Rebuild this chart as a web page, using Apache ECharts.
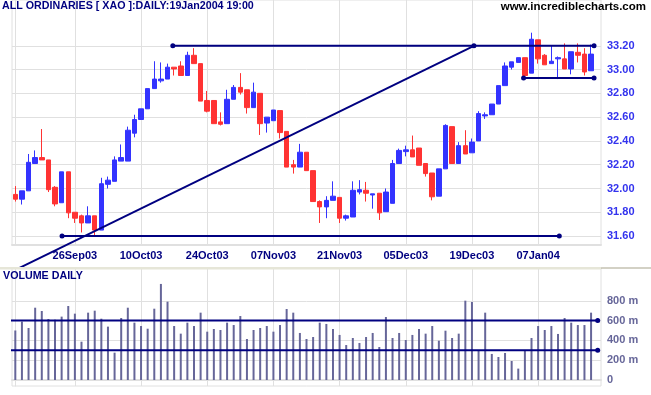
<!DOCTYPE html>
<html><head><meta charset="utf-8">
<script src="https://cdn.jsdelivr.net/npm/echarts@6/dist/echarts.min.js"></script>
<style>html,body{margin:0;padding:0;background:#fff}#c{width:651px;height:395px}</style>
</head><body><div id="c"></div>
<script>
const dates = ['15Sep03','16Sep03','17Sep03','18Sep03','19Sep03','22Sep03','23Sep03','24Sep03','25Sep03','26Sep03','29Sep03','30Sep03',
'01Oct03','02Oct03','03Oct03','06Oct03','07Oct03','08Oct03','09Oct03','10Oct03','13Oct03','14Oct03','15Oct03','16Oct03','17Oct03','20Oct03','21Oct03','22Oct03','23Oct03','24Oct03','27Oct03','28Oct03','29Oct03','30Oct03','31Oct03',
'03Nov03','04Nov03','05Nov03','06Nov03','07Nov03','10Nov03','11Nov03','12Nov03','13Nov03','14Nov03','17Nov03','18Nov03','19Nov03','20Nov03','21Nov03','24Nov03','25Nov03','26Nov03','27Nov03','28Nov03',
'01Dec03','02Dec03','03Dec03','04Dec03','05Dec03','08Dec03','09Dec03','10Dec03','11Dec03','12Dec03','15Dec03','16Dec03','17Dec03','18Dec03','19Dec03','22Dec03','23Dec03','24Dec03','29Dec03','30Dec03','31Dec03',
'02Jan04','05Jan04','06Jan04','07Jan04','08Jan04','09Jan04','12Jan04','13Jan04','14Jan04','15Jan04','16Jan04','19Jan04'];
const opens = [31.95,31.91,31.98,32.21,32.26,32.24,32.01,31.88,32.14,31.80,31.77,31.71,31.77,31.65,32.035,32.06,32.23,32.23,32.465,32.58,
32.67,32.84,32.905,32.92,33.02,33.03,32.95,33.12,33.05,32.74,32.74,32.56,32.545,32.75,32.85,32.83,32.68,32.80,32.55,32.57,
32.655,32.48,32.20,32.18,32.305,32.15,31.89,31.845,31.90,31.925,31.75,31.76,31.97,31.985,31.945,31.96,31.805,31.875,32.21,32.31,
32.325,32.34,32.21,32.13,31.935,32.165,32.52,32.21,32.36,32.30,32.40,32.61,32.62,32.71,32.865,33.02,33.06,33.10,32.97,33.25,
33.12,33.05,33.09,33.09,33.005,33.145,33.13,32.99];
const closes = [31.91,31.98,32.22,32.26,32.24,31.99,31.87,32.14,31.795,31.75,31.71,31.77,31.65,32.04,32.07,32.24,32.26,32.49,32.58,32.67,
32.84,32.92,32.92,33.02,33.005,32.95,33.12,33.05,32.735,32.65,32.545,32.54,32.75,32.85,32.81,32.68,32.81,32.545,32.60,32.66,
32.47,32.18,32.18,32.305,32.15,31.89,31.845,31.90,31.935,31.75,31.77,31.985,31.99,31.96,31.955,31.795,31.97,32.21,32.32,32.325,
32.265,32.195,32.125,31.93,32.165,32.53,32.21,32.36,32.29,32.39,32.63,32.62,32.71,32.865,33.03,33.065,33.10,32.95,33.255,33.09,
33.04,33.07,33.10,33.005,33.15,33.12,32.98,33.13];
const lows = [31.89,31.865,31.98,32.21,32.24,31.97,31.85,31.88,31.75,31.71,31.63,31.71,31.605,31.65,32.00,32.06,32.23,32.23,32.43,32.58,
32.67,32.84,32.89,32.92,32.95,32.95,32.95,33.05,32.735,32.64,32.545,32.53,32.545,32.75,32.79,32.63,32.68,32.45,32.47,32.57,
32.42,32.18,32.125,32.18,32.15,31.89,31.71,31.75,31.90,31.71,31.73,31.76,31.95,31.89,31.83,31.735,31.805,31.875,32.21,32.27,
32.265,32.195,32.10,31.90,31.935,32.165,32.21,32.21,32.29,32.30,32.40,32.585,32.62,32.71,32.865,33.00,33.06,32.93,32.97,33.05,
33.04,33.05,32.92,33.005,32.96,33.06,32.95,32.99];
const highs = [32.02,31.98,32.29,32.32,32.50,32.24,32.02,32.14,32.14,31.80,31.78,31.85,31.77,32.09,32.10,32.27,32.37,32.52,32.62,32.67,
32.84,33.07,33.06,33.05,33.02,33.07,33.15,33.18,33.05,32.82,32.74,32.64,32.83,32.87,32.97,32.83,32.89,32.80,32.60,32.66,
32.655,32.48,32.24,32.375,32.305,32.15,31.90,31.935,32.06,31.925,31.78,32.06,32.07,32.055,31.955,31.96,32.00,32.24,32.335,32.36,
32.445,32.34,32.21,32.13,32.165,32.54,32.52,32.39,32.49,32.42,32.65,32.64,32.71,32.865,33.06,33.065,33.10,33.10,33.31,33.25,
33.13,33.20,33.11,33.22,33.15,33.22,33.18,33.21];
const volumes = [500,590,525,730,697,616,609,640,747,670,387,680,700,619,539,276,626,730,579,545,
518,720,970,791,545,468,579,545,680,488,515,505,579,555,646,414,505,525,545,488,
555,717,680,475,414,434,579,566,515,455,353,424,374,434,475,333,636,424,475,404,
455,515,468,545,397,498,424,468,801,788,303,680,263,232,273,192,115,303,424,545,
505,545,465,626,579,555,555,680];
const dateTicks = ['26Sep03','10Oct03','24Oct03','07Nov03','21Nov03','05Dec03','19Dec03','07Jan04'];
const priceTicks = [31.6,31.8,32.0,32.2,32.4,32.6,32.8,33.0,33.2];
const volumeTicks = [0,200,400,600,800];
// annotation lines: [trading-day index, value]
const resistanceLine = [[23.8,33.20],[87.45,33.20]];
const supportLine = [[7.06,31.60],[82.2,31.60]];
const rangeLowLine = [[76.8,32.93],[87.45,32.93]];
const trendLine = [[0.56,31.33],[69.3,33.20]];
const volHighLine = [[-2.31,600],[88.0,600]];
const volLowLine = [[-2.31,300],[88.0,300]];

const FONT = 'Liberation Sans, Arial, sans-serif';
const NAVY = '#000080';
const cats = dates.concat(['']);
const candleData = opens.map((o,i)=>[o, closes[i], lows[i], highs[i]]);
const isTick = (idx, val) => dateTicks.indexOf(val) >= 0;

function annot(points, xi, yi, dots){
  return {type:'line', xAxisIndex:xi, yAxisIndex:yi, clip:false, silent:true, z:5,
    data: points.map((p,k)=>({value:p, symbol: dots[k] ? 'circle' : 'none'})),
    symbolSize:5, lineStyle:{color:NAVY, width:2}, itemStyle:{color:NAVY}};
}
function catAxis(grid, showLabels){
  return {type:'category', gridIndex:grid, data:cats, boundaryGap:true,
    axisLine:{show:true, lineStyle:{color:'#e0e0e0', width:2}},
    axisTick:{show:false},
    axisLabel:{show:showLabels, interval:isTick, color:NAVY, fontFamily:FONT, fontWeight:'bold', fontSize:11, margin:5},
    splitLine:{show:true, interval:isTick, alignWithLabel:true, lineStyle:{color:'#e0e0e0', width:1}}};
}

const chart = echarts.init(document.getElementById('c'), null, {renderer:'canvas'});
chart.setOption({
  animation:false,
  backgroundColor:'#fff',
  title:[
    {text:'ALL ORDINARIES [ XAO ]:DAILY:19Jan2004 19:00', left:2, top:1, padding:0,
     textStyle:{color:NAVY, fontFamily:FONT, fontWeight:'bold', fontSize:10.7}},
    {text:'www.incrediblecharts.com', right:5, top:1, padding:0,
     textStyle:{color:'#000', fontFamily:FONT, fontWeight:'bold', fontSize:11.5}},
    {text:'VOLUME DAILY', left:3, top:271, padding:0,
     textStyle:{color:NAVY, fontFamily:FONT, fontWeight:'bold', fontSize:10.7}}
  ],
  graphic:[
    {type:'rect', z:100, shape:{x:0, y:267, width:601, height:2.5}, style:{fill:'#e6e6d8'}},
    {type:'rect', z:100, shape:{x:601, y:267.5, width:50, height:1}, style:{fill:'#a8a48c'}}
  ],
  grid:[
    {left:12, top:-1, width:589, height:246, show:true, borderColor:'#e0e0e0', borderWidth:1},
    {left:12, top:268, width:589, height:118, show:true, borderColor:'#e0e0e0', borderWidth:1}
  ],
  xAxis:[
    catAxis(0, true),
    {type:'value', gridIndex:0, min:-0.5, max:88.5, show:false},
    catAxis(1, false),
    {type:'value', gridIndex:1, min:-0.5, max:88.5, show:false}
  ],
  yAxis:[
    {type:'value', gridIndex:0, position:'right', min:31.5246, max:33.585, scale:true,
     axisLine:{show:true, lineStyle:{color:'#e0e0e0'}},
     axisTick:{show:false, customValues:priceTicks},
     axisLabel:{customValues:priceTicks, formatter:v=>v.toFixed(2), color:'#3333ee', fontFamily:FONT, fontWeight:'bold', fontSize:11, margin:6},
     splitLine:{show:true, lineStyle:{color:'#e0e0e0'}}},
    {type:'value', gridIndex:1, position:'right', min:-60.6, max:1131,
     axisLine:{show:true, lineStyle:{color:'#e0e0e0'}},
     axisTick:{show:false, customValues:volumeTicks},
     axisLabel:{customValues:volumeTicks, formatter:v=> v===0 ? '0' : v+' m', color:'#666699', fontFamily:FONT, fontWeight:'bold', fontSize:11, margin:6},
     splitLine:{show:true, lineStyle:{color:'#e0e0e0'}}}
  ],
  series:[
    {type:'candlestick', xAxisIndex:0, yAxisIndex:0, data:candleData, barWidth:5,
     itemStyle:{color:'#3333ff', color0:'#ff3333', borderColor:'#3333ff', borderColor0:'#ff3333', borderWidth:1}},
    {type:'bar', xAxisIndex:2, yAxisIndex:1, data:volumes, barWidth:2, itemStyle:{color:'#666699'}},
    annot(resistanceLine, 1, 0, [true,true]),
    annot(supportLine, 1, 0, [true,true]),
    annot(rangeLowLine, 1, 0, [true,true]),
    annot(trendLine, 1, 0, [false,true]),
    annot(volHighLine, 3, 1, [false,true]),
    annot(volLowLine, 3, 1, [false,true])
  ]
});
</script></body></html>
